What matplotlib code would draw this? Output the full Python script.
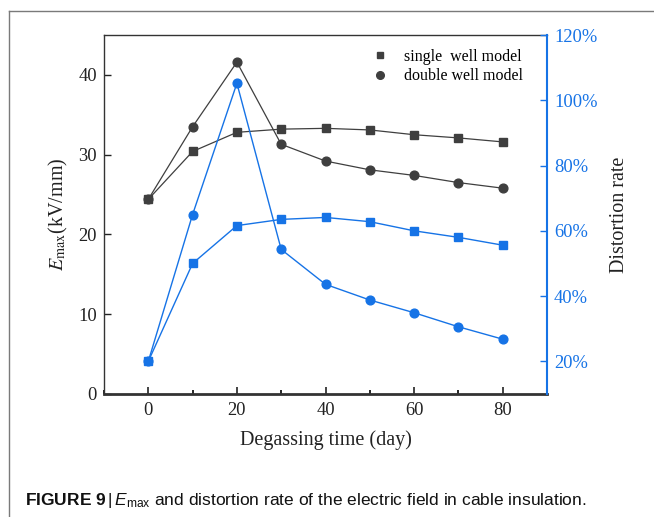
import matplotlib
matplotlib.use("Agg")
import matplotlib.pyplot as plt
from matplotlib.lines import Line2D
from matplotlib.ticker import MultipleLocator, FuncFormatter

# ---- data ----
days = [0, 10, 20, 30, 40, 50, 60, 70, 80]
emax_single = [24.4, 30.4, 32.8, 33.2, 33.3, 33.1, 32.5, 32.1, 31.6]
emax_double = [24.4, 33.5, 41.6, 31.3, 29.2, 28.1, 27.4, 26.5, 25.8]
dist_single = [20.0, 50.0, 61.6, 63.5, 64.1, 62.8, 60.0, 58.0, 55.6]
dist_double = [20.0, 65.0, 105.2, 54.3, 43.6, 38.8, 34.9, 30.6, 26.8]
legend_labels = ["single  well model", "double well model"]

BLUE = "#1673e6"
GRAY = "#3f3f3f"
SERIF = "Liberation Serif"

plt.rcParams["font.family"] = [SERIF, "DejaVu Serif"]
plt.rcParams["mathtext.fontset"] = "custom"
plt.rcParams["mathtext.rm"] = "Liberation Sans"
plt.rcParams["mathtext.it"] = "Liberation Sans:italic"
plt.rcParams["mathtext.bf"] = "Liberation Sans:bold"

fig = plt.figure(figsize=(6.54, 5.17), dpi=100)
W, H = 654, 517
ax = fig.add_axes([104 / W, 1 - 394 / H, (547 - 104) / W, (394 - 35) / H])
ax2 = ax.twinx()

ax.plot(days, emax_single, color=GRAY, lw=0.9, marker="s", ms=5.8, zorder=3)
ax.plot(days, emax_double, color=GRAY, lw=0.9, marker="o", ms=6.3, zorder=3)
ax2.plot(days, dist_single, color=BLUE, lw=1.0, marker="s", ms=5.8, zorder=3)
ax2.plot(days, dist_double, color=BLUE, lw=1.0, marker="o", ms=6.3, zorder=3)

ax.set_xlim(-10, 90)
ax.set_ylim(0, 45)
ax2.set_ylim(10, 120)

ax.xaxis.set_major_locator(MultipleLocator(20))
ax.xaxis.set_minor_locator(MultipleLocator(10))
ax.yaxis.set_major_locator(MultipleLocator(10))
ax2.yaxis.set_major_formatter(FuncFormatter(lambda v, p: f"{v:.0f}%"))
ax2.set_yticks([20, 40, 60, 80, 100, 120])

ax.tick_params(axis="x", which="major", direction="in", length=5, width=1.2,
               labelsize=13.3, pad=6, colors="#222222")
ax.tick_params(axis="x", which="minor", direction="in", length=3, width=1.2)
ax.tick_params(axis="y", which="major", direction="in", length=5, width=1.0,
               labelsize=13.3, pad=5, colors="#222222")
ax2.tick_params(axis="y", which="major", direction="in", length=5, width=1.0,
                labelsize=13.3, pad=5, colors=BLUE)

for s in ["left", "top"]:
    ax.spines[s].set_linewidth(1.0)
    ax.spines[s].set_color("#333333")
ax.spines["bottom"].set_linewidth(2.0)
ax.spines["bottom"].set_color("#333333")
ax2.spines["right"].set_color(BLUE)
ax2.spines["right"].set_linewidth(1.5)
ax2.spines["left"].set_visible(False)
ax2.spines["top"].set_visible(False)
ax2.spines["bottom"].set_visible(False)
ax.spines["right"].set_visible(False)

ax.set_xlabel("Degassing time (day)", fontsize=14.5, labelpad=8, color="#222222")
ax.set_ylabel(r"$E_{\mathrm{max}}$(kV/mm)", fontsize=14.5, labelpad=6,
              color="#222222", math_fontfamily="stix")
ax2.set_ylabel("Distortion rate", fontsize=14.5, labelpad=9, color="#222222")

handles = [Line2D([], [], color=GRAY, marker="s", ls="none", ms=5.0),
           Line2D([], [], color=GRAY, marker="o", ls="none", ms=5.5)]
ax.legend(handles, legend_labels, loc="upper right", bbox_to_anchor=(0.972, 0.992),
          frameon=False, fontsize=11.5, handlelength=1.0, handletextpad=1.0,
          labelspacing=0.2, borderaxespad=0.3)

# outer frame
fig.add_artist(Line2D([9 / W, 9 / W], [0, 1 - 11 / H], transform=fig.transFigure,
                      color="#7a7a7a", lw=1.0))
fig.add_artist(Line2D([9 / W, 1], [1 - 11 / H, 1 - 11 / H], transform=fig.transFigure,
                      color="#7a7a7a", lw=1.0))

fig.text(25 / W, 1 - 500 / H,
         r"$\mathbf{FIGURE\ 9}\,|\,\mathit{E}_{\mathrm{max}}$" +
         " and distortion rate of the electric field in cable insulation.",
         fontsize=12.5, family=["Liberation Sans Narrow", "Liberation Sans"],
         va="center", ha="left", color="#111111")

fig.savefig("out.png", dpi=100)
